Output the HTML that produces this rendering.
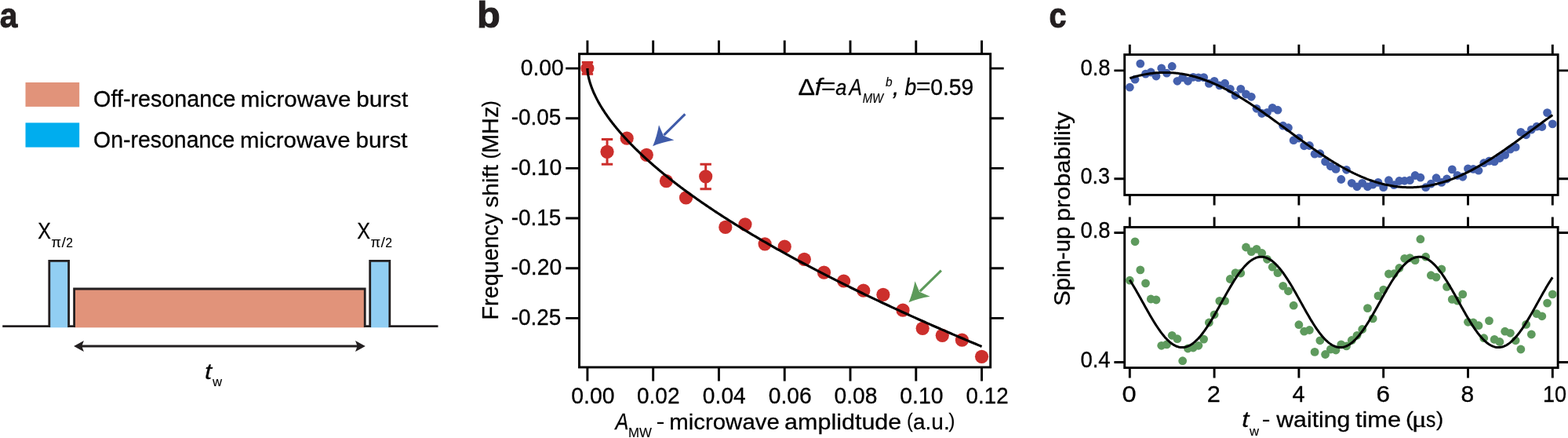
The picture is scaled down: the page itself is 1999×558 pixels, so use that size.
<!DOCTYPE html>
<html><head><meta charset="utf-8"><title>Figure</title>
<style>html,body{margin:0;padding:0;background:#fff;}svg{display:block;}</style>
</head><body>
<svg width="1999" height="558" viewBox="0 0 1999 558">
<rect x="0" y="0" width="1999" height="558" fill="#fff"/>
<text transform="translate(-0.32,35.00) scale(0.9096,1.0000)" font-family="'Liberation Sans', sans-serif" font-size="44.6" fill="#231F20" stroke="#231F20" stroke-width="1.0" stroke-linejoin="miter" style="font-weight:bold" xml:space="preserve">a</text>
<rect x="32.5" y="105" width="68.7" height="30.9" fill="#E1937A"/>
<rect x="32.5" y="156.4" width="68.7" height="31.2" fill="#00ADEE"/>
<text transform="translate(119.11,135.50) scale(0.9482,1.0000)" font-family="'Liberation Sans', sans-serif" font-size="30.3" fill="#000" stroke="#000" stroke-width="0.3" stroke-linejoin="miter" xml:space="preserve">Off-resonance</text>
<text transform="translate(306.68,135.50) scale(0.9724,0.9200)" font-family="'Liberation Sans', sans-serif" font-size="30.3" fill="#000" stroke="#000" stroke-width="0.3" stroke-linejoin="miter" xml:space="preserve">microwave</text>
<text transform="translate(454.17,135.50) scale(0.9809,0.9200)" font-family="'Liberation Sans', sans-serif" font-size="30.3" fill="#000" stroke="#000" stroke-width="0.3" stroke-linejoin="miter" xml:space="preserve">burst</text>
<text transform="translate(119.12,187.50) scale(0.9389,1.0000)" font-family="'Liberation Sans', sans-serif" font-size="30.3" fill="#000" stroke="#000" stroke-width="0.3" stroke-linejoin="miter" xml:space="preserve">On-resonance</text>
<text transform="translate(306.09,187.50) scale(0.9703,0.9200)" font-family="'Liberation Sans', sans-serif" font-size="30.3" fill="#000" stroke="#000" stroke-width="0.3" stroke-linejoin="miter" xml:space="preserve">microwave</text>
<text transform="translate(453.57,187.50) scale(0.9794,0.9200)" font-family="'Liberation Sans', sans-serif" font-size="30.3" fill="#000" stroke="#000" stroke-width="0.3" stroke-linejoin="miter" xml:space="preserve">burst</text>
<rect x="62.8" y="332.3" width="24.799999999999997" height="85.0" fill="#91CEF3"/>
<rect x="471.7" y="332.3" width="25.100000000000023" height="85.0" fill="#91CEF3"/>
<rect x="94.6" y="368.0" width="370.6" height="49.30000000000001" fill="#E1937A"/>
<path d="M3.2,415.65 H62.8 V332.3 H87.6 V415.65 H94.6 V368.0 H465.2 V415.65 H471.7 V332.3 H496.8 V415.65 H558.5" fill="none" stroke="#231F20" stroke-width="2.8" stroke-linejoin="miter"/>
<text transform="translate(48.34,304.40) scale(0.8219,1.0000)" font-family="'Liberation Sans', sans-serif" font-size="30.3" fill="#000" stroke="#000" stroke-width="0.3" stroke-linejoin="miter" xml:space="preserve">X</text>
<text transform="translate(65.47,314.60) scale(1.0021,1.0000)" font-family="'Liberation Sans', sans-serif" font-size="18.144000000000002" fill="#000" stroke="#000" stroke-width="0.12" stroke-linejoin="miter" xml:space="preserve">π</text>
<text transform="translate(78.60,315.20) scale(1.2121,1.0800)" font-family="'Liberation Sans', sans-serif" font-size="16.2" fill="#000" xml:space="preserve">/</text>
<text transform="translate(84.32,314.60) scale(0.9632,1.0000)" font-family="'Liberation Sans', sans-serif" font-size="16.2" fill="#000" stroke="#000" stroke-width="0.12" stroke-linejoin="miter" xml:space="preserve">2</text>
<text transform="translate(455.29,304.40) scale(0.8219,1.0000)" font-family="'Liberation Sans', sans-serif" font-size="30.3" fill="#000" stroke="#000" stroke-width="0.3" stroke-linejoin="miter" xml:space="preserve">X</text>
<text transform="translate(472.42,314.60) scale(1.0021,1.0000)" font-family="'Liberation Sans', sans-serif" font-size="18.144000000000002" fill="#000" stroke="#000" stroke-width="0.12" stroke-linejoin="miter" xml:space="preserve">π</text>
<text transform="translate(485.55,315.20) scale(1.2121,1.0800)" font-family="'Liberation Sans', sans-serif" font-size="16.2" fill="#000" xml:space="preserve">/</text>
<text transform="translate(491.27,314.60) scale(0.9632,1.0000)" font-family="'Liberation Sans', sans-serif" font-size="16.2" fill="#000" stroke="#000" stroke-width="0.12" stroke-linejoin="miter" xml:space="preserve">2</text>
<path d="M100,441.0 H460" fill="none" stroke="#231F20" stroke-width="3.0"/>
<path d="M94.10,441.00 Q100.50,444.55 106.90,448.10 L104.30,441.00 L106.90,433.90 Q100.50,437.45 94.10,441.00 Z" fill="#231F20"/>
<path d="M465.80,441.00 Q459.40,437.45 453.00,433.90 L455.60,441.00 L453.00,448.10 Q459.40,444.55 465.80,441.00 Z" fill="#231F20"/>
<text transform="translate(260.94,483.10) scale(1.0711,0.8900)" font-family="'Liberation Sans', sans-serif" font-size="30.3" fill="#000" stroke="#000" stroke-width="0.3" stroke-linejoin="miter" style="font-style:italic" xml:space="preserve">t</text>
<text transform="translate(271.00,492.20) scale(1.0302,1.0000)" font-family="'Liberation Sans', sans-serif" font-size="16.2" fill="#000" stroke="#000" stroke-width="0.12" stroke-linejoin="miter" xml:space="preserve">w</text>
<text transform="translate(608.03,35.20) scale(1.0730,1.0200)" font-family="'Liberation Sans', sans-serif" font-size="45.4" fill="#231F20" stroke="#231F20" stroke-width="1.0" stroke-linejoin="miter" style="font-weight:bold" xml:space="preserve">b</text>
<rect x="738.5" y="68.7" width="524.2" height="399.2" fill="none" stroke="#000" stroke-width="2.9"/>
<path d="M748.90,68.7 V51.5 M748.90,467.9 V485.4 M832.68,68.7 V51.5 M832.68,467.9 V485.4 M916.46,68.7 V51.5 M916.46,467.9 V485.4 M1000.24,68.7 V51.5 M1000.24,467.9 V485.4 M1084.02,68.7 V51.5 M1084.02,467.9 V485.4 M1167.80,68.7 V51.5 M1167.80,467.9 V485.4 M1251.58,68.7 V51.5 M1251.58,467.9 V485.4 M738.5,87.10 H721.2 M1262.7,87.10 H1279.7 M738.5,150.75 H721.2 M1262.7,150.75 H1279.7 M738.5,214.40 H721.2 M1262.7,214.40 H1279.7 M738.5,278.05 H721.2 M1262.7,278.05 H1279.7 M738.5,341.70 H721.2 M1262.7,341.70 H1279.7 M738.5,405.35 H721.2 M1262.7,405.35 H1279.7" fill="none" stroke="#000" stroke-width="2.9"/>
<text transform="translate(663.77,95.60) scale(0.9308,1.0000)" font-family="'Liberation Sans', sans-serif" font-size="30.3" fill="#000" stroke="#000" stroke-width="0.3" stroke-linejoin="miter" xml:space="preserve">0.00</text>
<text transform="translate(651.64,159.25) scale(0.9217,1.0000)" font-family="'Liberation Sans', sans-serif" font-size="30.3" fill="#000" stroke="#000" stroke-width="0.3" stroke-linejoin="miter" xml:space="preserve">-0.05</text>
<text transform="translate(651.62,222.90) scale(0.9352,1.0000)" font-family="'Liberation Sans', sans-serif" font-size="30.3" fill="#000" stroke="#000" stroke-width="0.3" stroke-linejoin="miter" xml:space="preserve">-0.10</text>
<text transform="translate(651.64,286.55) scale(0.9217,1.0000)" font-family="'Liberation Sans', sans-serif" font-size="30.3" fill="#000" stroke="#000" stroke-width="0.3" stroke-linejoin="miter" xml:space="preserve">-0.15</text>
<text transform="translate(651.62,350.20) scale(0.9352,1.0000)" font-family="'Liberation Sans', sans-serif" font-size="30.3" fill="#000" stroke="#000" stroke-width="0.3" stroke-linejoin="miter" xml:space="preserve">-0.20</text>
<text transform="translate(651.64,413.85) scale(0.9217,1.0000)" font-family="'Liberation Sans', sans-serif" font-size="30.3" fill="#000" stroke="#000" stroke-width="0.3" stroke-linejoin="miter" xml:space="preserve">-0.25</text>
<text transform="translate(728.26,514.40) scale(0.9379,1.0000)" font-family="'Liberation Sans', sans-serif" font-size="30.3" fill="#000" stroke="#000" stroke-width="0.3" stroke-linejoin="miter" xml:space="preserve">0.00</text>
<text transform="translate(811.98,514.40) scale(0.9252,1.0000)" font-family="'Liberation Sans', sans-serif" font-size="30.3" fill="#000" stroke="#000" stroke-width="0.3" stroke-linejoin="miter" xml:space="preserve">0.02</text>
<text transform="translate(895.87,514.40) scale(0.9311,1.0000)" font-family="'Liberation Sans', sans-serif" font-size="30.3" fill="#000" stroke="#000" stroke-width="0.3" stroke-linejoin="miter" xml:space="preserve">0.04</text>
<text transform="translate(979.67,514.40) scale(0.9333,1.0000)" font-family="'Liberation Sans', sans-serif" font-size="30.3" fill="#000" stroke="#000" stroke-width="0.3" stroke-linejoin="miter" xml:space="preserve">0.06</text>
<text transform="translate(1063.47,514.40) scale(0.9308,1.0000)" font-family="'Liberation Sans', sans-serif" font-size="30.3" fill="#000" stroke="#000" stroke-width="0.3" stroke-linejoin="miter" xml:space="preserve">0.08</text>
<text transform="translate(1147.26,514.40) scale(0.9379,1.0000)" font-family="'Liberation Sans', sans-serif" font-size="30.3" fill="#000" stroke="#000" stroke-width="0.3" stroke-linejoin="miter" xml:space="preserve">0.10</text>
<text transform="translate(1231.59,514.40) scale(0.9163,1.0000)" font-family="'Liberation Sans', sans-serif" font-size="30.3" fill="#000" stroke="#000" stroke-width="0.3" stroke-linejoin="miter" xml:space="preserve">0.12</text>
<text transform="translate(634.60,407.50) rotate(-90) scale(0.9496,1.0000)" font-family="'Liberation Sans', sans-serif" font-size="30.3" fill="#000" stroke="#000" stroke-width="0.3" stroke-linejoin="miter" xml:space="preserve">Frequency</text>
<text transform="translate(634.60,264.60) rotate(-90) scale(0.9855,0.9200)" font-family="'Liberation Sans', sans-serif" font-size="30.3" fill="#000" stroke="#000" stroke-width="0.3" stroke-linejoin="miter" xml:space="preserve">shift</text>
<text transform="translate(633.00,202.47) rotate(-90) scale(0.8095,0.8800)" font-family="'Liberation Sans', sans-serif" font-size="30.3" fill="#000" stroke="#000" stroke-width="0.3" stroke-linejoin="miter" xml:space="preserve">(</text>
<text transform="translate(634.60,195.01) rotate(-90) scale(0.9550,1.0000)" font-family="'Liberation Sans', sans-serif" font-size="30.3" fill="#000" stroke="#000" stroke-width="0.3" stroke-linejoin="miter" xml:space="preserve">MHz</text>
<text transform="translate(633.00,136.14) rotate(-90) scale(0.7870,0.8800)" font-family="'Liberation Sans', sans-serif" font-size="30.3" fill="#000" stroke="#000" stroke-width="0.3" stroke-linejoin="miter" xml:space="preserve">)</text>
<text transform="translate(784.54,547.00) scale(0.8364,1.0000)" font-family="'Liberation Sans', sans-serif" font-size="30.3" fill="#000" stroke="#000" stroke-width="0.3" stroke-linejoin="miter" style="font-style:italic" xml:space="preserve">A</text>
<text transform="translate(801.05,556.60) scale(1.0410,1.0000)" font-family="'Liberation Sans', sans-serif" font-size="16.2" fill="#000" stroke="#000" stroke-width="0.12" stroke-linejoin="miter" xml:space="preserve">MW</text>
<text transform="translate(836.51,546.00) scale(1.0911,0.9000)" font-family="'Liberation Sans', sans-serif" font-size="30.3" fill="#000" xml:space="preserve">-</text>
<text transform="translate(853.19,547.00) scale(0.9717,0.9200)" font-family="'Liberation Sans', sans-serif" font-size="30.3" fill="#000" stroke="#000" stroke-width="0.3" stroke-linejoin="miter" xml:space="preserve">microwave</text>
<text transform="translate(1000.03,547.00) scale(1.0076,0.9200)" font-family="'Liberation Sans', sans-serif" font-size="30.3" fill="#000" stroke="#000" stroke-width="0.3" stroke-linejoin="miter" xml:space="preserve">amplidtude</text>
<text transform="translate(1156.16,545.40) scale(0.7348,0.8800)" font-family="'Liberation Sans', sans-serif" font-size="30.3" fill="#000" stroke="#000" stroke-width="0.3" stroke-linejoin="miter" xml:space="preserve">(</text>
<text transform="translate(1163.94,547.00) scale(0.9254,0.9200)" font-family="'Liberation Sans', sans-serif" font-size="30.3" fill="#000" stroke="#000" stroke-width="0.3" stroke-linejoin="miter" xml:space="preserve">a.u.</text>
<text transform="translate(1209.56,545.40) scale(0.7870,0.8800)" font-family="'Liberation Sans', sans-serif" font-size="30.3" fill="#000" stroke="#000" stroke-width="0.3" stroke-linejoin="miter" xml:space="preserve">)</text>
<path d="M748.90,79.5 V94.2 M741.70,79.5 H756.10 M741.70,94.2 H756.10" fill="none" stroke="#CC2F2C" stroke-width="3.0"/>
<circle cx="748.90" cy="87.0" r="8.6" fill="#CC2F2C"/>
<path d="M774.03,177.5 V209.2 M766.83,177.5 H781.23 M766.83,209.2 H781.23" fill="none" stroke="#CC2F2C" stroke-width="3.0"/>
<circle cx="774.03" cy="193.3" r="8.6" fill="#CC2F2C"/>
<circle cx="799.17" cy="176.2" r="8.6" fill="#CC2F2C"/>
<circle cx="824.30" cy="197.3" r="8.6" fill="#CC2F2C"/>
<circle cx="849.44" cy="230.6" r="8.6" fill="#CC2F2C"/>
<circle cx="874.57" cy="251.8" r="8.6" fill="#CC2F2C"/>
<path d="M899.70,209.2 V240.7 M892.50,209.2 H906.90 M892.50,240.7 H906.90" fill="none" stroke="#CC2F2C" stroke-width="3.0"/>
<circle cx="899.70" cy="224.8" r="8.6" fill="#CC2F2C"/>
<circle cx="924.84" cy="289.4" r="8.6" fill="#CC2F2C"/>
<circle cx="949.97" cy="285.8" r="8.6" fill="#CC2F2C"/>
<circle cx="975.11" cy="310.8" r="8.6" fill="#CC2F2C"/>
<circle cx="1000.24" cy="314.2" r="8.6" fill="#CC2F2C"/>
<circle cx="1025.37" cy="330.3" r="8.6" fill="#CC2F2C"/>
<circle cx="1050.51" cy="347.2" r="8.6" fill="#CC2F2C"/>
<circle cx="1075.64" cy="358.0" r="8.6" fill="#CC2F2C"/>
<circle cx="1100.78" cy="370.2" r="8.6" fill="#CC2F2C"/>
<circle cx="1125.91" cy="375.3" r="8.6" fill="#CC2F2C"/>
<circle cx="1151.04" cy="395.2" r="8.6" fill="#CC2F2C"/>
<circle cx="1176.18" cy="418.3" r="8.6" fill="#CC2F2C"/>
<circle cx="1201.31" cy="427.3" r="8.6" fill="#CC2F2C"/>
<circle cx="1226.45" cy="433.2" r="8.6" fill="#CC2F2C"/>
<circle cx="1251.58" cy="454.3" r="8.6" fill="#CC2F2C"/>
<path d="M748.90,87.10 L748.90,87.40 L748.91,87.78 L748.93,88.20 L748.95,88.65 L748.98,89.11 L749.01,89.60 L749.05,90.09 L749.10,90.60 L749.15,91.13 L749.21,91.66 L749.28,92.20 L749.35,92.76 L749.43,93.32 L749.52,93.88 L749.61,94.46 L749.70,95.04 L749.81,95.63 L749.92,96.22 L750.03,96.83 L750.16,97.43 L750.29,98.05 L750.42,98.66 L750.56,99.29 L750.71,99.91 L750.86,100.55 L751.02,101.18 L751.19,101.82 L751.36,102.47 L751.54,103.12 L751.73,103.77 L751.92,104.43 L752.12,105.09 L752.32,105.76 L752.53,106.43 L752.75,107.10 L752.97,107.77 L753.20,108.45 L753.44,109.14 L753.68,109.82 L753.93,110.51 L754.18,111.20 L754.44,111.90 L754.71,112.60 L754.98,113.30 L755.26,114.00 L755.55,114.71 L755.84,115.42 L756.14,116.13 L756.44,116.85 L756.75,117.56 L757.07,118.28 L757.40,119.01 L757.73,119.73 L758.06,120.46 L758.40,121.19 L758.75,121.92 L759.11,122.66 L759.47,123.40 L759.84,124.13 L760.21,124.88 L760.59,125.62 L760.98,126.37 L761.37,127.12 L761.77,127.87 L762.17,128.62 L762.59,129.37 L763.00,130.13 L763.43,130.89 L763.86,131.65 L764.29,132.41 L764.74,133.18 L765.19,133.94 L765.64,134.71 L766.10,135.48 L766.57,136.26 L767.05,137.03 L767.53,137.81 L768.01,138.58 L768.51,139.36 L769.01,140.15 L769.51,140.93 L770.03,141.71 L770.54,142.50 L771.07,143.29 L771.60,144.08 L772.14,144.87 L772.68,145.66 L773.23,146.46 L773.79,147.26 L774.35,148.06 L774.92,148.86 L775.49,149.66 L776.07,150.46 L776.66,151.26 L777.25,152.07 L777.85,152.88 L778.46,153.69 L779.07,154.50 L779.69,155.31 L780.32,156.12 L780.95,156.94 L781.59,157.76 L782.23,158.57 L782.88,159.39 L783.54,160.22 L784.20,161.04 L784.87,161.86 L785.55,162.69 L786.23,163.51 L786.92,164.34 L787.61,165.17 L788.31,166.00 L789.02,166.83 L789.73,167.67 L790.45,168.50 L791.18,169.34 L791.91,170.17 L792.65,171.01 L793.39,171.85 L794.14,172.69 L794.90,173.54 L795.66,174.38 L796.43,175.22 L797.21,176.07 L797.99,176.92 L798.78,177.77 L799.57,178.62 L800.37,179.47 L801.18,180.32 L802.00,181.17 L802.82,182.03 L803.64,182.88 L804.47,183.74 L805.31,184.60 L806.16,185.46 L807.01,186.32 L807.87,187.18 L808.73,188.04 L809.60,188.90 L810.48,189.77 L811.36,190.63 L812.25,191.50 L813.15,192.37 L814.05,193.24 L814.96,194.11 L815.87,194.98 L816.79,195.85 L817.72,196.73 L818.65,197.60 L819.59,198.48 L820.54,199.35 L821.49,200.23 L822.45,201.11 L823.41,201.99 L824.38,202.87 L825.36,203.75 L826.34,204.63 L827.33,205.52 L828.33,206.40 L829.33,207.29 L830.34,208.18 L831.35,209.06 L832.37,209.95 L833.40,210.84 L834.43,211.73 L835.47,212.63 L836.52,213.52 L837.57,214.41 L838.63,215.31 L839.70,216.20 L840.77,217.10 L841.85,218.00 L842.93,218.89 L844.02,219.79 L845.12,220.69 L846.22,221.60 L847.33,222.50 L848.44,223.40 L849.56,224.31 L850.69,225.21 L851.83,226.12 L852.97,227.02 L854.11,227.93 L855.27,228.84 L856.43,229.75 L857.59,230.66 L858.76,231.57 L859.94,232.48 L861.13,233.39 L862.32,234.31 L863.51,235.22 L864.72,236.14 L865.93,237.06 L867.14,237.97 L868.37,238.89 L869.59,239.81 L870.83,240.73 L872.07,241.65 L873.32,242.57 L874.57,243.49 L875.83,244.42 L877.10,245.34 L878.37,246.27 L879.65,247.19 L880.93,248.12 L882.22,249.04 L883.52,249.97 L884.82,250.90 L886.13,251.83 L887.45,252.76 L888.77,253.69 L890.10,254.63 L891.44,255.56 L892.78,256.49 L894.13,257.43 L895.48,258.36 L896.84,259.30 L898.21,260.23 L899.58,261.17 L900.96,262.11 L902.35,263.05 L903.74,263.99 L905.14,264.93 L906.54,265.87 L907.95,266.81 L909.37,267.76 L910.79,268.70 L912.22,269.64 L913.66,270.59 L915.10,271.53 L916.55,272.48 L918.00,273.43 L919.46,274.38 L920.93,275.33 L922.40,276.28 L923.88,277.23 L925.37,278.18 L926.86,279.13 L928.36,280.08 L929.86,281.03 L931.38,281.99 L932.89,282.94 L934.42,283.90 L935.95,284.85 L937.48,285.81 L939.03,286.77 L940.58,287.73 L942.13,288.68 L943.69,289.64 L945.26,290.60 L946.83,291.57 L948.41,292.53 L950.00,293.49 L951.59,294.45 L953.19,295.42 L954.80,296.38 L956.41,297.34 L958.03,298.31 L959.65,299.28 L961.28,300.24 L962.92,301.21 L964.56,302.18 L966.21,303.15 L967.87,304.12 L969.53,305.09 L971.20,306.06 L972.87,307.03 L974.55,308.00 L976.24,308.98 L977.93,309.95 L979.63,310.92 L981.34,311.90 L983.05,312.88 L984.77,313.85 L986.49,314.83 L988.23,315.81 L989.96,316.78 L991.71,317.76 L993.46,318.74 L995.21,319.72 L996.98,320.70 L998.74,321.68 L1000.52,322.67 L1002.30,323.65 L1004.09,324.63 L1005.88,325.62 L1007.68,326.60 L1009.49,327.58 L1011.30,328.57 L1013.12,329.56 L1014.95,330.54 L1016.78,331.53 L1018.62,332.52 L1020.46,333.51 L1022.31,334.50 L1024.17,335.49 L1026.03,336.48 L1027.90,337.47 L1029.78,338.46 L1031.66,339.45 L1033.55,340.45 L1035.44,341.44 L1037.34,342.43 L1039.25,343.43 L1041.16,344.42 L1043.08,345.42 L1045.01,346.41 L1046.94,347.41 L1048.88,348.41 L1050.82,349.41 L1052.77,350.41 L1054.73,351.41 L1056.69,352.41 L1058.66,353.41 L1060.64,354.41 L1062.62,355.41 L1064.61,356.41 L1066.61,357.41 L1068.61,358.42 L1070.62,359.42 L1072.63,360.43 L1074.65,361.43 L1076.68,362.44 L1078.71,363.44 L1080.75,364.45 L1082.79,365.46 L1084.84,366.46 L1086.90,367.47 L1088.97,368.48 L1091.04,369.49 L1093.11,370.50 L1095.20,371.51 L1097.29,372.52 L1099.38,373.53 L1101.48,374.55 L1103.59,375.56 L1105.71,376.57 L1107.83,377.59 L1109.95,378.60 L1112.09,379.62 L1114.23,380.63 L1116.37,381.65 L1118.52,382.66 L1120.68,383.68 L1122.85,384.70 L1125.02,385.72 L1127.19,386.74 L1129.38,387.75 L1131.57,388.77 L1133.76,389.79 L1135.97,390.82 L1138.18,391.84 L1140.39,392.86 L1142.61,393.88 L1144.84,394.90 L1147.07,395.93 L1149.31,396.95 L1151.56,397.98 L1153.81,399.00 L1156.07,400.03 L1158.34,401.05 L1160.61,402.08 L1162.89,403.11 L1165.17,404.13 L1167.46,405.16 L1169.76,406.19 L1172.06,407.22 L1174.37,408.25 L1176.68,409.28 L1179.01,410.31 L1181.33,411.34 L1183.67,412.37 L1186.01,413.40 L1188.36,414.44 L1190.71,415.47 L1193.07,416.50 L1195.43,417.54 L1197.81,418.57 L1200.18,419.61 L1202.57,420.64 L1204.96,421.68 L1207.36,422.71 L1209.76,423.75 L1212.17,424.79 L1214.59,425.83 L1217.01,426.86 L1219.44,427.90 L1221.87,428.94 L1224.31,429.98 L1226.76,431.02 L1229.21,432.06 L1231.67,433.10 L1234.14,434.15 L1236.61,435.19 L1239.09,436.23 L1241.58,437.27 L1244.07,438.32 L1246.57,439.36 L1249.07,440.41 L1251.58,441.45" fill="none" stroke="#000" stroke-width="3.15" stroke-linejoin="round"/>
<path d="M873.40,145.30 L846.39,172.11" stroke="#3F5BA9" stroke-width="3.1" fill="none"/>
<path d="M832.20,186.20 Q844.49,181.12 859.31,178.59 L845.83,172.67 L840.01,159.15 Q837.37,173.95 832.20,186.20 Z" fill="#3F5BA9"/>
<path d="M1199.90,344.70 L1172.80,371.21" stroke="#5D9A5A" stroke-width="3.1" fill="none"/>
<path d="M1158.50,385.20 Q1170.82,380.21 1185.67,377.79 L1172.22,371.77 L1166.50,358.20 Q1163.76,372.99 1158.50,385.20 Z" fill="#5D9A5A"/>
<text transform="translate(1017.53,120.70) scale(1.0658,1.0000)" font-family="'Liberation Sans', sans-serif" font-size="30.3" fill="#000" stroke="#000" stroke-width="0.3" stroke-linejoin="miter" xml:space="preserve">Δ</text>
<text transform="translate(1038.63,120.70) scale(1.1001,1.0000)" font-family="'Liberation Sans', sans-serif" font-size="30.3" fill="#000" stroke="#000" stroke-width="0.3" stroke-linejoin="miter" style="font-style:italic" xml:space="preserve">f</text>
<text transform="translate(1046.79,120.40) scale(1.0615,0.9600)" font-family="'Liberation Sans', sans-serif" font-size="30.3" fill="#000" xml:space="preserve">=</text>
<text transform="translate(1065.36,120.70) scale(0.8401,0.9200)" font-family="'Liberation Sans', sans-serif" font-size="30.3" fill="#000" stroke="#000" stroke-width="0.3" stroke-linejoin="miter" style="font-style:italic" xml:space="preserve">a</text>
<text transform="translate(1082.41,120.70) scale(0.8112,1.0000)" font-family="'Liberation Sans', sans-serif" font-size="30.3" fill="#000" stroke="#000" stroke-width="0.3" stroke-linejoin="miter" style="font-style:italic" xml:space="preserve">A</text>
<text transform="translate(1099.65,130.60) scale(0.9234,1.0000)" font-family="'Liberation Sans', sans-serif" font-size="16.2" fill="#000" stroke="#000" stroke-width="0.12" stroke-linejoin="miter" style="font-style:italic" xml:space="preserve">MW</text>
<text transform="translate(1129.07,110.40) scale(0.9562,1.0000)" font-family="'Liberation Sans', sans-serif" font-size="16.2" fill="#000" stroke="#000" stroke-width="0.12" stroke-linejoin="miter" style="font-style:italic" xml:space="preserve">b</text>
<text transform="translate(1137.86,120.70) scale(1.0608,1.0000)" font-family="'Liberation Sans', sans-serif" font-size="30.3" fill="#000" stroke="#000" stroke-width="0.3" stroke-linejoin="miter" style="font-style:italic" xml:space="preserve">,</text>
<text transform="translate(1153.60,120.70) scale(0.8736,1.0000)" font-family="'Liberation Sans', sans-serif" font-size="30.3" fill="#000" stroke="#000" stroke-width="0.3" stroke-linejoin="miter" style="font-style:italic" xml:space="preserve">b</text>
<text transform="translate(1167.87,120.40) scale(1.0752,0.9600)" font-family="'Liberation Sans', sans-serif" font-size="30.3" fill="#000" xml:space="preserve">=</text>
<text transform="translate(1186.17,120.70) scale(0.9333,1.0000)" font-family="'Liberation Sans', sans-serif" font-size="30.3" fill="#000" stroke="#000" stroke-width="0.3" stroke-linejoin="miter" xml:space="preserve">0.59</text>
<text transform="translate(1337.42,35.00) scale(0.8797,1.0000)" font-family="'Liberation Sans', sans-serif" font-size="45.0" fill="#231F20" stroke="#231F20" stroke-width="1.0" stroke-linejoin="miter" style="font-weight:bold" xml:space="preserve">c</text>
<rect x="1433.7" y="69.6" width="552.45" height="178.8" fill="none" stroke="#000" stroke-width="2.9"/>
<rect x="1433.7" y="289.4" width="552.45" height="179.10000000000002" fill="none" stroke="#000" stroke-width="2.9"/>
<path d="M1440.30,69.6 V56.7 M1440.30,248.4 V261.5 M1440.30,289.4 V276.5 M1440.30,468.5 V481.5 M1548.10,69.6 V56.7 M1548.10,248.4 V261.5 M1548.10,289.4 V276.5 M1548.10,468.5 V481.5 M1655.90,69.6 V56.7 M1655.90,248.4 V261.5 M1655.90,289.4 V276.5 M1655.90,468.5 V481.5 M1763.70,69.6 V56.7 M1763.70,248.4 V261.5 M1763.70,289.4 V276.5 M1763.70,468.5 V481.5 M1871.50,69.6 V56.7 M1871.50,248.4 V261.5 M1871.50,289.4 V276.5 M1871.50,468.5 V481.5 M1979.30,69.6 V56.7 M1979.30,248.4 V261.5 M1979.30,289.4 V276.5 M1979.30,468.5 V481.5 M1433.7,89.9 H1420.4 M1986.15,89.9 H1999.5 M1433.7,227.8 H1420.4 M1986.15,227.8 H1999.5 M1433.7,296.5 H1420.4 M1986.15,296.5 H1999.5 M1433.7,461.5 H1420.4 M1986.15,461.5 H1999.5" fill="none" stroke="#000" stroke-width="2.9"/>
<text transform="translate(1377.40,96.30) scale(0.9054,1.0000)" font-family="'Liberation Sans', sans-serif" font-size="30.3" fill="#000" stroke="#000" stroke-width="0.3" stroke-linejoin="miter" xml:space="preserve">0.8</text>
<text transform="translate(1377.42,234.20) scale(0.8902,1.0000)" font-family="'Liberation Sans', sans-serif" font-size="30.3" fill="#000" stroke="#000" stroke-width="0.3" stroke-linejoin="miter" xml:space="preserve">0.3</text>
<text transform="translate(1377.40,302.90) scale(0.9054,1.0000)" font-family="'Liberation Sans', sans-serif" font-size="30.3" fill="#000" stroke="#000" stroke-width="0.3" stroke-linejoin="miter" xml:space="preserve">0.8</text>
<text transform="translate(1377.40,467.90) scale(0.9076,1.0000)" font-family="'Liberation Sans', sans-serif" font-size="30.3" fill="#000" stroke="#000" stroke-width="0.3" stroke-linejoin="miter" xml:space="preserve">0.4</text>
<text transform="translate(1430.59,511.60) scale(1.0769,1.0000)" font-family="'Liberation Sans', sans-serif" font-size="30.3" fill="#000" stroke="#000" stroke-width="0.3" stroke-linejoin="miter" xml:space="preserve">0</text>
<text transform="translate(1538.76,511.60) scale(1.0155,1.0000)" font-family="'Liberation Sans', sans-serif" font-size="30.3" fill="#000" stroke="#000" stroke-width="0.3" stroke-linejoin="miter" xml:space="preserve">2</text>
<text transform="translate(1647.38,511.60) scale(0.9571,1.0000)" font-family="'Liberation Sans', sans-serif" font-size="30.3" fill="#000" stroke="#000" stroke-width="0.3" stroke-linejoin="miter" xml:space="preserve">4</text>
<text transform="translate(1754.52,511.60) scale(1.0403,1.0000)" font-family="'Liberation Sans', sans-serif" font-size="30.3" fill="#000" stroke="#000" stroke-width="0.3" stroke-linejoin="miter" xml:space="preserve">6</text>
<text transform="translate(1862.55,511.60) scale(0.9901,1.0000)" font-family="'Liberation Sans', sans-serif" font-size="30.3" fill="#000" stroke="#000" stroke-width="0.3" stroke-linejoin="miter" xml:space="preserve">8</text>
<text transform="translate(1966.97,511.60) scale(0.8944,1.0000)" font-family="'Liberation Sans', sans-serif" font-size="30.3" fill="#000" stroke="#000" stroke-width="0.3" stroke-linejoin="miter" xml:space="preserve">10</text>
<text transform="translate(1363.90,389.72) rotate(-90) scale(0.9685,1.0000)" font-family="'Liberation Sans', sans-serif" font-size="30.3" fill="#000" stroke="#000" stroke-width="0.3" stroke-linejoin="miter" xml:space="preserve">Spin-up</text>
<text transform="translate(1363.90,282.09) rotate(-90) scale(1.0122,0.9200)" font-family="'Liberation Sans', sans-serif" font-size="30.3" fill="#000" stroke="#000" stroke-width="0.3" stroke-linejoin="miter" xml:space="preserve">probability</text>
<text transform="translate(1583.14,544.40) scale(1.0711,0.8900)" font-family="'Liberation Sans', sans-serif" font-size="30.3" fill="#000" stroke="#000" stroke-width="0.3" stroke-linejoin="miter" style="font-style:italic" xml:space="preserve">t</text>
<text transform="translate(1592.90,554.60) scale(1.0302,1.0000)" font-family="'Liberation Sans', sans-serif" font-size="16.2" fill="#000" stroke="#000" stroke-width="0.12" stroke-linejoin="miter" xml:space="preserve">w</text>
<text transform="translate(1608.59,543.40) scale(1.1046,0.9000)" font-family="'Liberation Sans', sans-serif" font-size="30.3" fill="#000" xml:space="preserve">-</text>
<text transform="translate(1627.30,544.40) scale(0.9977,0.9200)" font-family="'Liberation Sans', sans-serif" font-size="30.3" fill="#000" stroke="#000" stroke-width="0.3" stroke-linejoin="miter" xml:space="preserve">waiting</text>
<text transform="translate(1727.94,544.40) scale(1.0172,0.9200)" font-family="'Liberation Sans', sans-serif" font-size="30.3" fill="#000" stroke="#000" stroke-width="0.3" stroke-linejoin="miter" xml:space="preserve">time</text>
<text transform="translate(1791.89,542.80) scale(0.9963,0.8800)" font-family="'Liberation Sans', sans-serif" font-size="30.3" fill="#000" stroke="#000" stroke-width="0.3" stroke-linejoin="miter" xml:space="preserve">(</text>
<text transform="translate(1799.92,544.40) scale(1.1452,1.0000)" font-family="'Liberation Serif', serif" font-size="30.3" fill="#000" stroke="#000" stroke-width="0.3" stroke-linejoin="miter" xml:space="preserve">μ</text>
<text transform="translate(1818.06,544.40) scale(0.8118,0.9200)" font-family="'Liberation Sans', sans-serif" font-size="30.3" fill="#000" stroke="#000" stroke-width="0.3" stroke-linejoin="miter" xml:space="preserve">s</text>
<text transform="translate(1830.92,542.80) scale(0.9139,0.8800)" font-family="'Liberation Sans', sans-serif" font-size="30.3" fill="#000" stroke="#000" stroke-width="0.3" stroke-linejoin="miter" xml:space="preserve">)</text>
<g fill="#4460AD"><circle cx="1440.30" cy="111.2" r="5.4"/><circle cx="1447.04" cy="101.2" r="5.4"/><circle cx="1453.77" cy="81.1" r="5.4"/><circle cx="1460.51" cy="94.1" r="5.4"/><circle cx="1467.25" cy="92.0" r="5.4"/><circle cx="1473.99" cy="97.0" r="5.4"/><circle cx="1480.72" cy="87.0" r="5.4"/><circle cx="1487.46" cy="93.2" r="5.4"/><circle cx="1494.20" cy="84.5" r="5.4"/><circle cx="1500.94" cy="103.3" r="5.4"/><circle cx="1507.67" cy="98.9" r="5.4"/><circle cx="1514.41" cy="103.3" r="5.4"/><circle cx="1521.15" cy="98.3" r="5.4"/><circle cx="1527.89" cy="98.9" r="5.4"/><circle cx="1534.62" cy="98.6" r="5.4"/><circle cx="1541.36" cy="106.4" r="5.4"/><circle cx="1548.10" cy="103.3" r="5.4"/><circle cx="1554.84" cy="108.9" r="5.4"/><circle cx="1561.58" cy="106.2" r="5.4"/><circle cx="1568.31" cy="113.3" r="5.4"/><circle cx="1575.05" cy="121.5" r="5.4"/><circle cx="1581.79" cy="113.3" r="5.4"/><circle cx="1588.52" cy="120.0" r="5.4"/><circle cx="1595.26" cy="123.3" r="5.4"/><circle cx="1602.00" cy="138.3" r="5.4"/><circle cx="1608.74" cy="144.5" r="5.4"/><circle cx="1615.47" cy="143.3" r="5.4"/><circle cx="1622.21" cy="137.4" r="5.4"/><circle cx="1628.95" cy="140.2" r="5.4"/><circle cx="1635.69" cy="160.2" r="5.4"/><circle cx="1642.42" cy="162.7" r="5.4"/><circle cx="1649.16" cy="178.7" r="5.4"/><circle cx="1655.90" cy="176.0" r="5.4"/><circle cx="1662.64" cy="185.8" r="5.4"/><circle cx="1669.38" cy="185.5" r="5.4"/><circle cx="1676.11" cy="196.2" r="5.4"/><circle cx="1682.85" cy="195.7" r="5.4"/><circle cx="1689.59" cy="205.9" r="5.4"/><circle cx="1696.32" cy="211.8" r="5.4"/><circle cx="1703.06" cy="215.4" r="5.4"/><circle cx="1709.80" cy="228.5" r="5.4"/><circle cx="1716.54" cy="216.3" r="5.4"/><circle cx="1723.27" cy="233.3" r="5.4"/><circle cx="1730.01" cy="237.8" r="5.4"/><circle cx="1736.75" cy="233.3" r="5.4"/><circle cx="1743.49" cy="237.8" r="5.4"/><circle cx="1750.22" cy="235.1" r="5.4"/><circle cx="1756.96" cy="232.4" r="5.4"/><circle cx="1763.70" cy="238.7" r="5.4"/><circle cx="1770.44" cy="229.7" r="5.4"/><circle cx="1777.17" cy="235.7" r="5.4"/><circle cx="1783.91" cy="230.5" r="5.4"/><circle cx="1790.65" cy="230.3" r="5.4"/><circle cx="1797.39" cy="229.7" r="5.4"/><circle cx="1804.12" cy="223.5" r="5.4"/><circle cx="1810.86" cy="226.2" r="5.4"/><circle cx="1817.60" cy="238.7" r="5.4"/><circle cx="1824.34" cy="234.2" r="5.4"/><circle cx="1831.07" cy="226.7" r="5.4"/><circle cx="1837.81" cy="232.4" r="5.4"/><circle cx="1844.55" cy="228.0" r="5.4"/><circle cx="1851.29" cy="215.9" r="5.4"/><circle cx="1858.02" cy="223.5" r="5.4"/><circle cx="1864.76" cy="225.3" r="5.4"/><circle cx="1871.50" cy="214.9" r="5.4"/><circle cx="1878.24" cy="215.4" r="5.4"/><circle cx="1884.97" cy="217.2" r="5.4"/><circle cx="1891.71" cy="207.7" r="5.4"/><circle cx="1898.45" cy="205.2" r="5.4"/><circle cx="1905.19" cy="205.9" r="5.4"/><circle cx="1911.92" cy="201.5" r="5.4"/><circle cx="1918.66" cy="197.4" r="5.4"/><circle cx="1925.40" cy="190.2" r="5.4"/><circle cx="1932.14" cy="187.4" r="5.4"/><circle cx="1938.88" cy="168.4" r="5.4"/><circle cx="1945.61" cy="171.8" r="5.4"/><circle cx="1952.35" cy="165.1" r="5.4"/><circle cx="1959.09" cy="161.2" r="5.4"/><circle cx="1965.82" cy="161.5" r="5.4"/><circle cx="1972.56" cy="143.6" r="5.4"/><circle cx="1979.30" cy="157.9" r="5.4"/></g>
<g fill="#5E9A5D"><circle cx="1440.30" cy="357.2" r="5.4"/><circle cx="1447.04" cy="307.8" r="5.4"/><circle cx="1453.77" cy="343.9" r="5.4"/><circle cx="1460.51" cy="360.9" r="5.4"/><circle cx="1467.25" cy="381.0" r="5.4"/><circle cx="1473.99" cy="382.0" r="5.4"/><circle cx="1480.72" cy="440.3" r="5.4"/><circle cx="1487.46" cy="438.9" r="5.4"/><circle cx="1494.20" cy="427.3" r="5.4"/><circle cx="1500.94" cy="431.7" r="5.4"/><circle cx="1507.67" cy="459.7" r="5.4"/><circle cx="1514.41" cy="444.0" r="5.4"/><circle cx="1521.15" cy="443.0" r="5.4"/><circle cx="1527.89" cy="440.3" r="5.4"/><circle cx="1534.62" cy="432.1" r="5.4"/><circle cx="1541.36" cy="411.0" r="5.4"/><circle cx="1548.10" cy="400.8" r="5.4"/><circle cx="1554.84" cy="383.4" r="5.4"/><circle cx="1561.58" cy="383.4" r="5.4"/><circle cx="1568.31" cy="355.5" r="5.4"/><circle cx="1575.05" cy="347.6" r="5.4"/><circle cx="1581.79" cy="348.0" r="5.4"/><circle cx="1588.52" cy="315.0" r="5.4"/><circle cx="1595.26" cy="320.7" r="5.4"/><circle cx="1602.00" cy="317.3" r="5.4"/><circle cx="1608.74" cy="322.5" r="5.4"/><circle cx="1615.47" cy="330.3" r="5.4"/><circle cx="1622.21" cy="340.2" r="5.4"/><circle cx="1628.95" cy="347.6" r="5.4"/><circle cx="1635.69" cy="364.3" r="5.4"/><circle cx="1642.42" cy="370.8" r="5.4"/><circle cx="1649.16" cy="389.2" r="5.4"/><circle cx="1655.90" cy="413.7" r="5.4"/><circle cx="1662.64" cy="422.2" r="5.4"/><circle cx="1669.38" cy="420.5" r="5.4"/><circle cx="1676.11" cy="448.4" r="5.4"/><circle cx="1682.85" cy="433.8" r="5.4"/><circle cx="1689.59" cy="451.5" r="5.4"/><circle cx="1696.32" cy="445.0" r="5.4"/><circle cx="1703.06" cy="446.0" r="5.4"/><circle cx="1709.80" cy="438.9" r="5.4"/><circle cx="1716.54" cy="440.9" r="5.4"/><circle cx="1723.27" cy="433.5" r="5.4"/><circle cx="1730.01" cy="427.3" r="5.4"/><circle cx="1736.75" cy="419.5" r="5.4"/><circle cx="1743.49" cy="392.6" r="5.4"/><circle cx="1750.22" cy="405.9" r="5.4"/><circle cx="1756.96" cy="376.9" r="5.4"/><circle cx="1763.70" cy="369.1" r="5.4"/><circle cx="1770.44" cy="349.0" r="5.4"/><circle cx="1777.17" cy="348.7" r="5.4"/><circle cx="1783.91" cy="341.5" r="5.4"/><circle cx="1790.65" cy="329.3" r="5.4"/><circle cx="1797.39" cy="328.6" r="5.4"/><circle cx="1804.12" cy="331.6" r="5.4"/><circle cx="1810.86" cy="304.7" r="5.4"/><circle cx="1817.60" cy="327.2" r="5.4"/><circle cx="1824.34" cy="350.7" r="5.4"/><circle cx="1831.07" cy="353.1" r="5.4"/><circle cx="1837.81" cy="342.9" r="5.4"/><circle cx="1844.55" cy="365.4" r="5.4"/><circle cx="1851.29" cy="381.4" r="5.4"/><circle cx="1858.02" cy="383.1" r="5.4"/><circle cx="1864.76" cy="374.9" r="5.4"/><circle cx="1871.50" cy="410.3" r="5.4"/><circle cx="1878.24" cy="411.0" r="5.4"/><circle cx="1884.97" cy="414.7" r="5.4"/><circle cx="1891.71" cy="430.7" r="5.4"/><circle cx="1898.45" cy="408.6" r="5.4"/><circle cx="1905.19" cy="432.4" r="5.4"/><circle cx="1911.92" cy="435.5" r="5.4"/><circle cx="1918.66" cy="422.2" r="5.4"/><circle cx="1925.40" cy="424.3" r="5.4"/><circle cx="1932.14" cy="433.8" r="5.4"/><circle cx="1938.88" cy="445.0" r="5.4"/><circle cx="1945.61" cy="413.4" r="5.4"/><circle cx="1952.35" cy="426.0" r="5.4"/><circle cx="1959.09" cy="399.7" r="5.4"/><circle cx="1965.82" cy="402.8" r="5.4"/><circle cx="1972.56" cy="386.1" r="5.4"/><circle cx="1979.30" cy="374.9" r="5.4"/></g>
<path d="M1440.30,99.69 L1441.65,99.27 L1442.99,98.85 L1444.34,98.45 L1445.69,98.06 L1447.04,97.69 L1448.38,97.32 L1449.73,96.97 L1451.08,96.63 L1452.43,96.31 L1453.77,95.99 L1455.12,95.69 L1456.47,95.40 L1457.82,95.13 L1459.16,94.87 L1460.51,94.62 L1461.86,94.38 L1463.21,94.16 L1464.56,93.95 L1465.90,93.75 L1467.25,93.57 L1468.60,93.40 L1469.94,93.24 L1471.29,93.10 L1472.64,92.97 L1473.99,92.85 L1475.34,92.75 L1476.68,92.66 L1478.03,92.58 L1479.38,92.52 L1480.72,92.47 L1482.07,92.43 L1483.42,92.41 L1484.77,92.40 L1486.12,92.40 L1487.46,92.42 L1488.81,92.45 L1490.16,92.50 L1491.50,92.56 L1492.85,92.63 L1494.20,92.71 L1495.55,92.81 L1496.89,92.92 L1498.24,93.05 L1499.59,93.18 L1500.94,93.34 L1502.28,93.50 L1503.63,93.68 L1504.98,93.87 L1506.33,94.07 L1507.67,94.29 L1509.02,94.52 L1510.37,94.77 L1511.72,95.02 L1513.07,95.29 L1514.41,95.58 L1515.76,95.87 L1517.11,96.18 L1518.45,96.50 L1519.80,96.83 L1521.15,97.18 L1522.50,97.54 L1523.85,97.91 L1525.19,98.30 L1526.54,98.69 L1527.89,99.10 L1529.23,99.52 L1530.58,99.95 L1531.93,100.40 L1533.28,100.86 L1534.62,101.33 L1535.97,101.81 L1537.32,102.30 L1538.67,102.80 L1540.01,103.32 L1541.36,103.85 L1542.71,104.39 L1544.06,104.94 L1545.40,105.50 L1546.75,106.07 L1548.10,106.65 L1549.45,107.25 L1550.79,107.85 L1552.14,108.47 L1553.49,109.09 L1554.84,109.73 L1556.18,110.37 L1557.53,111.03 L1558.88,111.70 L1560.23,112.37 L1561.58,113.06 L1562.92,113.76 L1564.27,114.46 L1565.62,115.18 L1566.96,115.90 L1568.31,116.63 L1569.66,117.37 L1571.01,118.13 L1572.36,118.89 L1573.70,119.65 L1575.05,120.43 L1576.40,121.22 L1577.74,122.01 L1579.09,122.81 L1580.44,123.62 L1581.79,124.44 L1583.13,125.26 L1584.48,126.09 L1585.83,126.93 L1587.18,127.78 L1588.52,128.63 L1589.87,129.49 L1591.22,130.36 L1592.57,131.23 L1593.91,132.11 L1595.26,133.00 L1596.61,133.89 L1597.96,134.79 L1599.30,135.69 L1600.65,136.60 L1602.00,137.51 L1603.35,138.43 L1604.69,139.35 L1606.04,140.28 L1607.39,141.22 L1608.74,142.15 L1610.09,143.10 L1611.43,144.04 L1612.78,144.99 L1614.13,145.95 L1615.47,146.91 L1616.82,147.87 L1618.17,148.83 L1619.52,149.80 L1620.87,150.77 L1622.21,151.74 L1623.56,152.72 L1624.91,153.70 L1626.25,154.68 L1627.60,155.66 L1628.95,156.64 L1630.30,157.63 L1631.64,158.61 L1632.99,159.60 L1634.34,160.59 L1635.69,161.58 L1637.03,162.57 L1638.38,163.57 L1639.73,164.56 L1641.08,165.55 L1642.42,166.54 L1643.77,167.53 L1645.12,168.53 L1646.47,169.52 L1647.82,170.51 L1649.16,171.50 L1650.51,172.49 L1651.86,173.47 L1653.20,174.46 L1654.55,175.44 L1655.90,176.42 L1657.25,177.40 L1658.60,178.38 L1659.94,179.36 L1661.29,180.33 L1662.64,181.30 L1663.98,182.27 L1665.33,183.23 L1666.68,184.19 L1668.03,185.15 L1669.38,186.11 L1670.72,187.06 L1672.07,188.00 L1673.42,188.95 L1674.76,189.88 L1676.11,190.82 L1677.46,191.75 L1678.81,192.67 L1680.15,193.59 L1681.50,194.50 L1682.85,195.41 L1684.20,196.31 L1685.54,197.21 L1686.89,198.10 L1688.24,198.99 L1689.59,199.87 L1690.93,200.74 L1692.28,201.61 L1693.63,202.47 L1694.98,203.32 L1696.32,204.17 L1697.67,205.01 L1699.02,205.84 L1700.37,206.66 L1701.71,207.48 L1703.06,208.29 L1704.41,209.09 L1705.76,209.88 L1707.11,210.67 L1708.45,211.45 L1709.80,212.21 L1711.15,212.97 L1712.49,213.73 L1713.84,214.47 L1715.19,215.20 L1716.54,215.92 L1717.88,216.64 L1719.23,217.34 L1720.58,218.04 L1721.93,218.73 L1723.27,219.40 L1724.62,220.07 L1725.97,220.73 L1727.32,221.37 L1728.66,222.01 L1730.01,222.63 L1731.36,223.25 L1732.71,223.85 L1734.05,224.45 L1735.40,225.03 L1736.75,225.60 L1738.10,226.16 L1739.44,226.71 L1740.79,227.25 L1742.14,227.78 L1743.49,228.30 L1744.84,228.80 L1746.18,229.29 L1747.53,229.77 L1748.88,230.24 L1750.22,230.70 L1751.57,231.15 L1752.92,231.58 L1754.27,232.00 L1755.62,232.41 L1756.96,232.80 L1758.31,233.19 L1759.66,233.56 L1761.00,233.92 L1762.35,234.27 L1763.70,234.60 L1765.05,234.92 L1766.39,235.23 L1767.74,235.52 L1769.09,235.81 L1770.44,236.08 L1771.78,236.33 L1773.13,236.58 L1774.48,236.81 L1775.83,237.03 L1777.17,237.23 L1778.52,237.42 L1779.87,237.60 L1781.22,237.76 L1782.57,237.92 L1783.91,238.05 L1785.26,238.18 L1786.61,238.29 L1787.95,238.39 L1789.30,238.47 L1790.65,238.54 L1792.00,238.60 L1793.34,238.65 L1794.69,238.68 L1796.04,238.70 L1797.39,238.70 L1798.73,238.69 L1800.08,238.67 L1801.43,238.63 L1802.78,238.58 L1804.12,238.52 L1805.47,238.44 L1806.82,238.35 L1808.17,238.25 L1809.51,238.13 L1810.86,238.00 L1812.21,237.86 L1813.56,237.70 L1814.90,237.53 L1816.25,237.35 L1817.60,237.15 L1818.95,236.94 L1820.30,236.72 L1821.64,236.48 L1822.99,236.23 L1824.34,235.97 L1825.68,235.70 L1827.03,235.41 L1828.38,235.11 L1829.73,234.79 L1831.07,234.47 L1832.42,234.13 L1833.77,233.78 L1835.12,233.41 L1836.46,233.04 L1837.81,232.65 L1839.16,232.25 L1840.51,231.83 L1841.86,231.41 L1843.20,230.97 L1844.55,230.52 L1845.90,230.06 L1847.24,229.58 L1848.59,229.10 L1849.94,228.60 L1851.29,228.09 L1852.63,227.57 L1853.98,227.04 L1855.33,226.50 L1856.68,225.94 L1858.02,225.38 L1859.37,224.80 L1860.72,224.21 L1862.07,223.61 L1863.41,223.01 L1864.76,222.39 L1866.11,221.76 L1867.46,221.12 L1868.80,220.47 L1870.15,219.80 L1871.50,219.13 L1872.85,218.45 L1874.19,217.76 L1875.54,217.06 L1876.89,216.35 L1878.24,215.64 L1879.59,214.91 L1880.93,214.17 L1882.28,213.43 L1883.63,212.67 L1884.97,211.91 L1886.32,211.14 L1887.67,210.36 L1889.02,209.57 L1890.36,208.77 L1891.71,207.97 L1893.06,207.15 L1894.41,206.33 L1895.75,205.51 L1897.10,204.67 L1898.45,203.83 L1899.80,202.98 L1901.14,202.12 L1902.49,201.26 L1903.84,200.39 L1905.19,199.52 L1906.53,198.64 L1907.88,197.75 L1909.23,196.85 L1910.58,195.95 L1911.92,195.05 L1913.27,194.14 L1914.62,193.22 L1915.97,192.30 L1917.32,191.38 L1918.66,190.44 L1920.01,189.51 L1921.36,188.57 L1922.70,187.63 L1924.05,186.68 L1925.40,185.73 L1926.75,184.77 L1928.10,183.81 L1929.44,182.85 L1930.79,181.88 L1932.14,180.91 L1933.48,179.94 L1934.83,178.97 L1936.18,177.99 L1937.53,177.01 L1938.88,176.03 L1940.22,175.05 L1941.57,174.06 L1942.92,173.08 L1944.26,172.09 L1945.61,171.10 L1946.96,170.11 L1948.31,169.12 L1949.65,168.13 L1951.00,167.14 L1952.35,166.15 L1953.70,165.15 L1955.05,164.16 L1956.39,163.17 L1957.74,162.18 L1959.09,161.19 L1960.43,160.20 L1961.78,159.21 L1963.13,158.22 L1964.48,157.23 L1965.82,156.25 L1967.17,155.26 L1968.52,154.28 L1969.87,153.30 L1971.21,152.33 L1972.56,151.35 L1973.91,150.38 L1975.26,149.41 L1976.61,148.44 L1977.95,147.48 L1979.30,146.52" fill="none" stroke="#000" stroke-width="3" stroke-linejoin="round"/>
<path d="M1440.30,356.61 L1441.65,358.75 L1442.99,360.93 L1444.34,363.16 L1445.69,365.42 L1447.04,367.72 L1448.38,370.04 L1449.73,372.40 L1451.08,374.77 L1452.43,377.17 L1453.77,379.58 L1455.12,381.99 L1456.47,384.42 L1457.82,386.84 L1459.16,389.26 L1460.51,391.67 L1461.86,394.07 L1463.21,396.45 L1464.56,398.82 L1465.90,401.16 L1467.25,403.47 L1468.60,405.74 L1469.94,407.98 L1471.29,410.18 L1472.64,412.34 L1473.99,414.45 L1475.34,416.50 L1476.68,418.50 L1478.03,420.44 L1479.38,422.32 L1480.72,424.13 L1482.07,425.87 L1483.42,427.54 L1484.77,429.14 L1486.12,430.65 L1487.46,432.09 L1488.81,433.44 L1490.16,434.71 L1491.50,435.89 L1492.85,436.98 L1494.20,437.97 L1495.55,438.88 L1496.89,439.69 L1498.24,440.40 L1499.59,441.01 L1500.94,441.53 L1502.28,441.94 L1503.63,442.26 L1504.98,442.47 L1506.33,442.58 L1507.67,442.59 L1509.02,442.50 L1510.37,442.31 L1511.72,442.01 L1513.07,441.62 L1514.41,441.12 L1515.76,440.53 L1517.11,439.84 L1518.45,439.05 L1519.80,438.16 L1521.15,437.18 L1522.50,436.11 L1523.85,434.95 L1525.19,433.70 L1526.54,432.36 L1527.89,430.95 L1529.23,429.44 L1530.58,427.87 L1531.93,426.21 L1533.28,424.48 L1534.62,422.69 L1535.97,420.82 L1537.32,418.89 L1538.67,416.91 L1540.01,414.86 L1541.36,412.77 L1542.71,410.62 L1544.06,408.43 L1545.40,406.19 L1546.75,403.92 L1548.10,401.62 L1549.45,399.29 L1550.79,396.93 L1552.14,394.55 L1553.49,392.15 L1554.84,389.74 L1556.18,387.32 L1557.53,384.90 L1558.88,382.48 L1560.23,380.06 L1561.58,377.65 L1562.92,375.25 L1564.27,372.87 L1565.62,370.51 L1566.96,368.18 L1568.31,365.88 L1569.66,363.61 L1571.01,361.37 L1572.36,359.18 L1573.70,357.03 L1575.05,354.94 L1576.40,352.89 L1577.74,350.91 L1579.09,348.98 L1580.44,347.11 L1581.79,345.32 L1583.13,343.59 L1584.48,341.93 L1585.83,340.36 L1587.18,338.85 L1588.52,337.44 L1589.87,336.10 L1591.22,334.85 L1592.57,333.69 L1593.91,332.62 L1595.26,331.64 L1596.61,330.75 L1597.96,329.96 L1599.30,329.27 L1600.65,328.68 L1602.00,328.18 L1603.35,327.79 L1604.69,327.49 L1606.04,327.30 L1607.39,327.21 L1608.74,327.22 L1610.09,327.33 L1611.43,327.54 L1612.78,327.86 L1614.13,328.27 L1615.47,328.79 L1616.82,329.40 L1618.17,330.11 L1619.52,330.92 L1620.87,331.83 L1622.21,332.82 L1623.56,333.91 L1624.91,335.09 L1626.25,336.36 L1627.60,337.71 L1628.95,339.15 L1630.30,340.66 L1631.64,342.26 L1632.99,343.93 L1634.34,345.67 L1635.69,347.48 L1637.03,349.36 L1638.38,351.30 L1639.73,353.30 L1641.08,355.35 L1642.42,357.46 L1643.77,359.62 L1645.12,361.82 L1646.47,364.06 L1647.82,366.33 L1649.16,368.64 L1650.51,370.98 L1651.86,373.35 L1653.20,375.73 L1654.55,378.13 L1655.90,380.54 L1657.25,382.96 L1658.60,385.38 L1659.94,387.81 L1661.29,390.22 L1662.64,392.63 L1663.98,395.03 L1665.33,397.40 L1666.68,399.76 L1668.03,402.08 L1669.38,404.38 L1670.72,406.64 L1672.07,408.87 L1673.42,411.05 L1674.76,413.19 L1676.11,415.28 L1677.46,417.31 L1678.81,419.28 L1680.15,421.20 L1681.50,423.05 L1682.85,424.83 L1684.20,426.55 L1685.54,428.19 L1686.89,429.75 L1688.24,431.24 L1689.59,432.64 L1690.93,433.96 L1692.28,435.19 L1693.63,436.33 L1694.98,437.39 L1696.32,438.35 L1697.67,439.21 L1699.02,439.98 L1700.37,440.65 L1701.71,441.23 L1703.06,441.70 L1704.41,442.08 L1705.76,442.35 L1707.11,442.53 L1708.45,442.60 L1709.80,442.57 L1711.15,442.44 L1712.49,442.20 L1713.84,441.87 L1715.19,441.43 L1716.54,440.90 L1717.88,440.26 L1719.23,439.53 L1720.58,438.70 L1721.93,437.78 L1723.27,436.77 L1724.62,435.66 L1725.97,434.46 L1727.32,433.18 L1728.66,431.81 L1730.01,430.35 L1731.36,428.82 L1732.71,427.21 L1734.05,425.53 L1735.40,423.77 L1736.75,421.95 L1738.10,420.06 L1739.44,418.11 L1740.79,416.09 L1742.14,414.03 L1743.49,411.91 L1744.84,409.75 L1746.18,407.54 L1747.53,405.29 L1748.88,403.01 L1750.22,400.69 L1751.57,398.35 L1752.92,395.98 L1754.27,393.59 L1755.62,391.19 L1756.96,388.77 L1758.31,386.35 L1759.66,383.93 L1761.00,381.51 L1762.35,379.09 L1763.70,376.69 L1765.05,374.30 L1766.39,371.93 L1767.74,369.58 L1769.09,367.25 L1770.44,364.96 L1771.78,362.71 L1773.13,360.49 L1774.48,358.32 L1775.83,356.19 L1777.17,354.11 L1778.52,352.09 L1779.87,350.13 L1781.22,348.23 L1782.57,346.39 L1783.91,344.62 L1785.26,342.92 L1786.61,341.29 L1787.95,339.75 L1789.30,338.28 L1790.65,336.89 L1792.00,335.59 L1793.34,334.37 L1794.69,333.25 L1796.04,332.21 L1797.39,331.27 L1798.73,330.43 L1800.08,329.68 L1801.43,329.02 L1802.78,328.47 L1804.12,328.01 L1805.47,327.66 L1806.82,327.40 L1808.17,327.25 L1809.51,327.20 L1810.86,327.25 L1812.21,327.40 L1813.56,327.66 L1814.90,328.01 L1816.25,328.47 L1817.60,329.02 L1818.95,329.68 L1820.30,330.43 L1821.64,331.27 L1822.99,332.21 L1824.34,333.25 L1825.68,334.37 L1827.03,335.59 L1828.38,336.89 L1829.73,338.28 L1831.07,339.75 L1832.42,341.29 L1833.77,342.92 L1835.12,344.62 L1836.46,346.39 L1837.81,348.23 L1839.16,350.13 L1840.51,352.09 L1841.86,354.11 L1843.20,356.19 L1844.55,358.32 L1845.90,360.49 L1847.24,362.71 L1848.59,364.96 L1849.94,367.25 L1851.29,369.58 L1852.63,371.93 L1853.98,374.30 L1855.33,376.69 L1856.68,379.09 L1858.02,381.51 L1859.37,383.93 L1860.72,386.35 L1862.07,388.77 L1863.41,391.19 L1864.76,393.59 L1866.11,395.98 L1867.46,398.35 L1868.80,400.69 L1870.15,403.01 L1871.50,405.29 L1872.85,407.54 L1874.19,409.75 L1875.54,411.91 L1876.89,414.03 L1878.24,416.09 L1879.59,418.11 L1880.93,420.06 L1882.28,421.95 L1883.63,423.77 L1884.97,425.53 L1886.32,427.21 L1887.67,428.82 L1889.02,430.35 L1890.36,431.81 L1891.71,433.18 L1893.06,434.46 L1894.41,435.66 L1895.75,436.77 L1897.10,437.78 L1898.45,438.70 L1899.80,439.53 L1901.14,440.26 L1902.49,440.90 L1903.84,441.43 L1905.19,441.87 L1906.53,442.20 L1907.88,442.44 L1909.23,442.57 L1910.58,442.60 L1911.92,442.53 L1913.27,442.35 L1914.62,442.08 L1915.97,441.70 L1917.32,441.23 L1918.66,440.65 L1920.01,439.98 L1921.36,439.21 L1922.70,438.35 L1924.05,437.39 L1925.40,436.33 L1926.75,435.19 L1928.10,433.96 L1929.44,432.64 L1930.79,431.24 L1932.14,429.75 L1933.48,428.19 L1934.83,426.55 L1936.18,424.83 L1937.53,423.05 L1938.88,421.20 L1940.22,419.28 L1941.57,417.31 L1942.92,415.28 L1944.26,413.19 L1945.61,411.05 L1946.96,408.87 L1948.31,406.64 L1949.65,404.38 L1951.00,402.08 L1952.35,399.76 L1953.70,397.40 L1955.05,395.03 L1956.39,392.63 L1957.74,390.22 L1959.09,387.81 L1960.43,385.38 L1961.78,382.96 L1963.13,380.54 L1964.48,378.13 L1965.82,375.73 L1967.17,373.35 L1968.52,370.98 L1969.87,368.64 L1971.21,366.33 L1972.56,364.06 L1973.91,361.82 L1975.26,359.62 L1976.61,357.46 L1977.95,355.35 L1979.30,353.30" fill="none" stroke="#000" stroke-width="3" stroke-linejoin="round"/>
</svg>
</body></html>
